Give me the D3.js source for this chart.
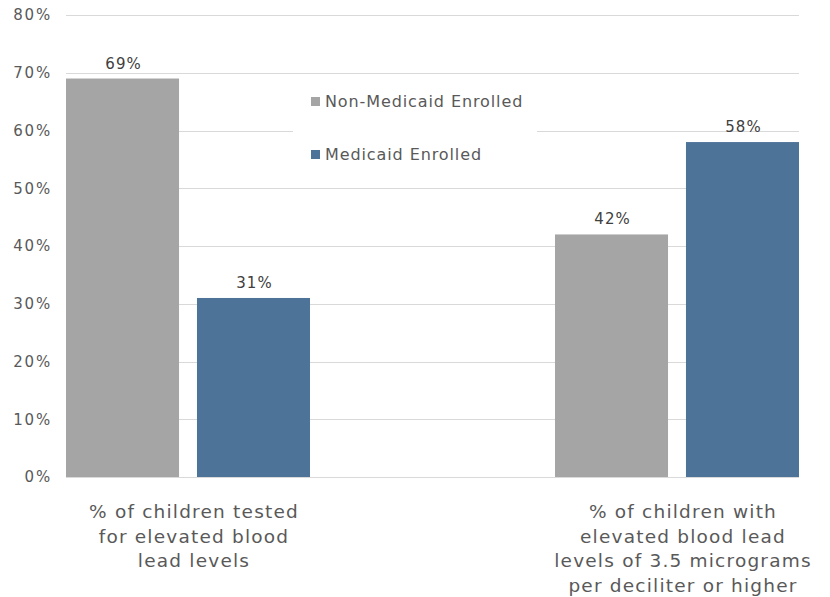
<!DOCTYPE html>
<html>
<head>
<meta charset="utf-8">
<script src="https://cdn.jsdelivr.net/npm/d3@7.9.0/dist/d3.min.js"></script>
<style>
  html, body { margin: 0; padding: 0; background: #fff; }
  svg { display: block; font-family: 'DejaVu Sans', sans-serif; }
</style>
</head>
<body>
<div id="chart"></div>
<script>
// data
const categories = [
  ['% of children tested', 'for elevated blood', 'lead levels'],
  ['% of children with', 'elevated blood lead', 'levels of 3.5 micrograms', 'per deciliter or higher']
];
const series = ['Non-Medicaid Enrolled', 'Medicaid Enrolled'];
const values = [
  [69, 31],   // tested
  [42, 58]    // elevated
];
const yTicks = [0, 10, 20, 30, 40, 50, 60, 70, 80];
const colors = ['#a5a5a5', '#4e7399'];

const width = 830;
const height = 597;
const plot = { left: 66, right: 799, top: 15, bottom: 477 };

const svg = d3.select('#chart')
  .append('svg')
  .attr('width', width)
  .attr('height', height);

const yScale = d3.scaleLinear()
  .domain([0, 80])
  .range([plot.bottom, plot.top]);

const x0 = d3.scaleBand()
  .domain(d3.range(categories.length))
  .range([plot.left, plot.right])
  .paddingInner(0.501)
  .paddingOuter(0);

const x1 = d3.scaleBand()
  .domain(d3.range(series.length))
  .range([0, x0.bandwidth()])
  .paddingInner(0.137);

// gridlines
svg.append('g')
  .selectAll('line')
  .data(yTicks)
  .join('line')
  .attr('x1', plot.left)
  .attr('x2', plot.right)
  .attr('y1', d => Math.round(yScale(d)) + 0.5)
  .attr('y2', d => Math.round(yScale(d)) + 0.5)
  .attr('stroke', '#d9d9d9')
  .attr('stroke-width', 1);

// y axis labels
const yAxis = d3.axisLeft(yScale)
  .tickValues(yTicks)
  .tickFormat(d => d + '%')
  .tickSize(0)
  .tickPadding(14);

svg.append('g')
  .attr('transform', `translate(${plot.left}, 0)`)
  .call(yAxis)
  .call(g => g.select('.domain').remove())
  .call(g => g.selectAll('text')
    .attr('fill', '#595959')
    .style('font-size', '15px')
    .style('letter-spacing', '1.8px')
    .style('font-family', "'DejaVu Sans', sans-serif"));

// legend background (covers gridline)
const legend = svg.append('g').attr('transform', 'translate(293, 84)');
legend.append('rect')
  .attr('width', 244)
  .attr('height', 86)
  .attr('fill', '#fff');

series.forEach((s, i) => {
  const row = legend.append('g').attr('transform', `translate(18, ${13 + i * 53})`);
  row.append('rect')
    .attr('width', 9)
    .attr('height', 9)
    .attr('fill', colors[i]);
  row.append('text')
    .attr('x', 14)
    .attr('y', 10)
    .attr('fill', '#595959')
    .style('font-size', '16px')
    .style('letter-spacing', '0.9px')
    .text(s);
});

// bars
const groups = svg.append('g')
  .selectAll('g')
  .data(values)
  .join('g')
  .attr('transform', (d, i) => `translate(${x0(i)}, 0)`);

groups.selectAll('rect')
  .data(d => d)
  .join('rect')
  .attr('x', (d, i) => x1(i))
  .attr('y', d => yScale(d))
  .attr('width', x1.bandwidth())
  .attr('height', d => yScale(0) - yScale(d))
  .attr('fill', (d, i) => colors[i]);

groups.selectAll('text.val')
  .data(d => d)
  .join('text')
  .attr('class', 'val')
  .attr('x', (d, i) => x1(i) + x1.bandwidth() / 2 + 1)
  .attr('y', d => yScale(d) - 10)
  .attr('text-anchor', 'middle')
  .attr('fill', '#404040')
  .style('font-size', '15px')
  .style('letter-spacing', '1px')
  .text(d => d + '%');

// category labels
categories.forEach((lines, i) => {
  const cx = x0(i) + x0.bandwidth() / 2 + 6;
  const t = svg.append('text')
    .attr('text-anchor', 'middle')
    .attr('fill', '#595959')
    .style('font-size', '18.5px')
    .style('letter-spacing', '1.2px');
  lines.forEach((line, j) => {
    t.append('tspan')
      .attr('x', cx)
      .attr('y', 518 + j * 24.5)
      .text(line);
  });
});
</script>
</body>
</html>
